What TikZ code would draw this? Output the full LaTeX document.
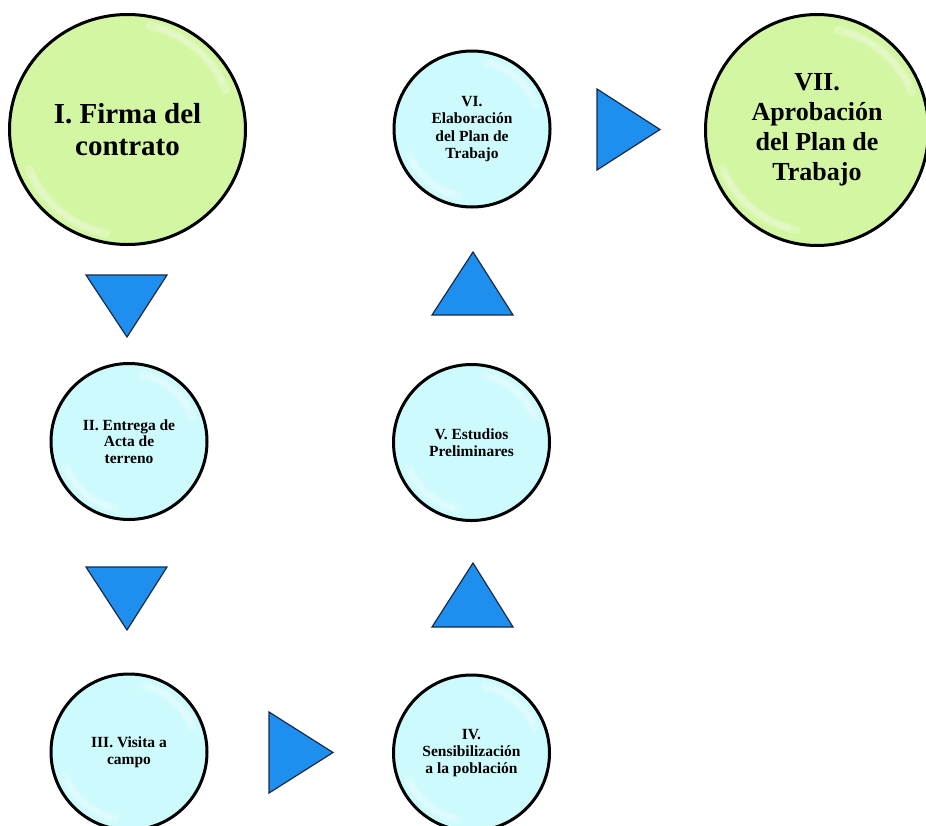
\documentclass[tikz,border=0pt]{standalone}
\usepackage{fontspec}
\setmainfont{Liberation Serif}
\usetikzlibrary{shapes.geometric}
\definecolor{stepgreen}{HTML}{D3F6A2}
\definecolor{stepcyan}{HTML}{CDFAFD}
\definecolor{arrowblue}{HTML}{1E8FEE}
\definecolor{arrowline}{HTML}{1B2A44}
\newcommand\myhl[2]{%
  \draw[hlstyle] ([shift={(22:#2)}]#1.center) arc[start angle=22,end angle=78,radius=#2];
  \draw[hlstyle, line width=4pt] ([shift={(26:#2)}]#1.center) arc[start angle=26,end angle=74,radius=#2];
  \draw[hlstyle] ([shift={(202:#2)}]#1.center) arc[start angle=202,end angle=258,radius=#2];
  \draw[hlstyle, line width=4pt] ([shift={(206:#2)}]#1.center) arc[start angle=206,end angle=254,radius=#2];}
\begin{document}
\begin{tikzpicture}[x=1pt,y=-1pt,
  bigstep/.style={ellipse, draw=black, line width=3pt, fill=stepgreen, inner sep=0pt, align=center,
     font=\bfseries\fontsize{29}{32.5}\selectfont},
  smallstep/.style={circle, draw=black, line width=3pt, fill=stepcyan, inner sep=0pt, align=center,
     minimum size=156pt, font=\bfseries\fontsize{15.5}{16.8}\selectfont},
  tri/.style={fill=arrowblue, draw=arrowline, line width=1.2pt, line join=miter},
  hlstyle/.style={white, opacity=0.22, line width=9pt, line cap=round}]
\useasboundingbox (0,0) rectangle (926,825);
\fill[white] (0,0) rectangle (926,825);

\node[bigstep, minimum width=236pt, minimum height=230pt] (s1) at (127.5,129.5) {I. Firma del\\contrato};
\node[bigstep, minimum width=223pt, minimum height=231pt, font=\bfseries\fontsize{26}{30}\selectfont] (s7) at (817,130) {VII.\\Aprobación\\del Plan de\\Trabajo};
\node[smallstep] (s2) at (129,441.5) {II. Entrega de\\Acta de\\terreno};
\node[smallstep] (s3) at (129,752) {III. Visita a\\campo};
\node[smallstep] (s4) at (471.5,753) {IV.\\Sensibilización\\a la población};
\node[smallstep] (s5) at (471.5,442.5) {V. Estudios\\Preliminares};
\node[smallstep, font=\bfseries\fontsize{15.5}{17.5}\selectfont] (s6) at (472,129) {VI.\\Elaboración\\del Plan de\\Trabajo};

\myhl{s1}{106pt}
\myhl{s7}{102pt}
\myhl{s2}{68pt}
\myhl{s3}{68pt}
\myhl{s4}{68pt}
\myhl{s5}{68pt}
\myhl{s6}{68pt}

% arrows between steps
\draw[tri] (86,275) -- (167,275) -- (127,337) -- cycle;
\draw[tri] (86,567) -- (167,567) -- (127,630) -- cycle;
\draw[tri] (269,712) -- (269,793) -- (333,752.5) -- cycle;
\draw[tri] (432,627) -- (513,627) -- (473,563) -- cycle;
\draw[tri] (432,315) -- (513,315) -- (473,252) -- cycle;
\draw[tri] (597,89) -- (597,170) -- (660,129.5) -- cycle;
\end{tikzpicture}
\end{document}
